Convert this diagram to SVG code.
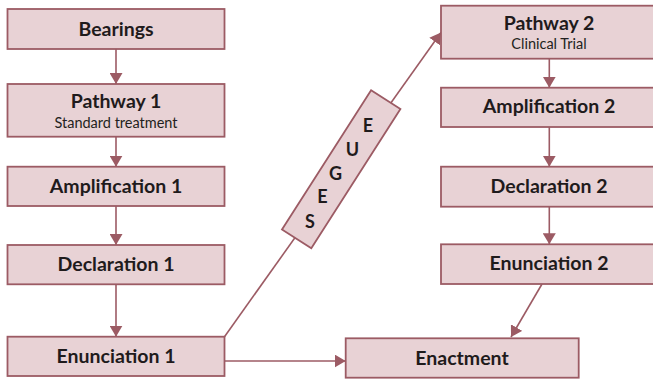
<svg xmlns="http://www.w3.org/2000/svg" width="653" height="382" viewBox="0 0 653 382">
  <defs>
    <style>
      .box { fill: #e8d2d5; stroke: #9c5b64; stroke-width: 1.8; }
      .edge { fill: none; stroke: #9c5b64; stroke-width: 1.6; }
      .title { font-family: Lato, "Liberation Sans", sans-serif; font-weight: 700; font-size: 19.5px; fill: #1f1b1c; text-anchor: middle; }
      .sub { font-family: Lato, "Liberation Sans", sans-serif; font-size: 14.5px; fill: #231f20; text-anchor: middle; }
      .letter { font-family: Lato, "Liberation Sans", sans-serif; font-weight: 700; font-size: 18px; fill: #1f1b1c; text-anchor: middle; }
    </style>
    <marker id="arrow" markerUnits="userSpaceOnUse" markerWidth="12" markerHeight="13" refX="11" refY="6.5" orient="auto">
      <path d="M0,0 L11,6.5 L0,13 Z" fill="#9c5b64"/>
    </marker>
  </defs>

  <!-- connectors -->
  <g id="connectors">
    <line class="edge" x1="116" y1="49" x2="116" y2="84" marker-end="url(#arrow)"/>
    <line class="edge" x1="116" y1="136.7" x2="116" y2="166.7" marker-end="url(#arrow)"/>
    <line class="edge" x1="116" y1="206" x2="116" y2="245" marker-end="url(#arrow)"/>
    <line class="edge" x1="116" y1="284.3" x2="116" y2="336.7" marker-end="url(#arrow)"/>
    <line class="edge" x1="549.3" y1="58.7" x2="549.3" y2="87.7" marker-end="url(#arrow)"/>
    <line class="edge" x1="549.3" y1="127" x2="549.3" y2="166.7" marker-end="url(#arrow)"/>
    <line class="edge" x1="549.3" y1="206.7" x2="549.3" y2="244.3" marker-end="url(#arrow)"/>
    <line class="edge" x1="542" y1="284" x2="511" y2="337" marker-end="url(#arrow)"/>
    <line class="edge" x1="224.5" y1="361" x2="345.7" y2="361" marker-end="url(#arrow)"/>
    <line class="edge" x1="224.5" y1="336.7" x2="441" y2="32.5" marker-end="url(#arrow)"/>
  </g>

  <!-- left column -->
  <g id="bearings">
    <rect class="box" x="7.5" y="9" width="217" height="40"/>
    <text class="title" x="116" y="35.5">Bearings</text>
  </g>
  <g id="pathway1">
    <rect class="box" x="7.5" y="84" width="217" height="52.7"/>
    <text class="title" x="116" y="108.3">Pathway 1</text>
    <text class="sub" x="116" y="127.7">Standard treatment</text>
  </g>
  <g id="amplification1">
    <rect class="box" x="7.5" y="166.7" width="217" height="39.3"/>
    <text class="title" x="116" y="192.6">Amplification 1</text>
  </g>
  <g id="declaration1">
    <rect class="box" x="7.5" y="245" width="217" height="39.3"/>
    <text class="title" x="116" y="271">Declaration 1</text>
  </g>
  <g id="enunciation1">
    <rect class="box" x="7.5" y="336.7" width="217" height="39.3"/>
    <text class="title" x="116" y="362.8">Enunciation 1</text>
  </g>

  <!-- segue band -->
  <g id="segue">
    <rect class="box" x="-17.4" y="-82.7" width="34.8" height="165.4" transform="translate(341.2,169.3) rotate(32.6)"/>
    <text class="letter" x="310" y="228.3">S</text>
    <text class="letter" x="322.5" y="203.3">E</text>
    <text class="letter" x="335.5" y="180">G</text>
    <text class="letter" x="352.5" y="156">U</text>
    <text class="letter" x="368" y="132.3">E</text>
  </g>

  <!-- right column -->
  <g id="pathway2">
    <rect class="box" x="441" y="5.7" width="216" height="53"/>
    <text class="title" x="549" y="29.5">Pathway 2</text>
    <text class="sub" x="549" y="48.5">Clinical Trial</text>
  </g>
  <g id="amplification2">
    <rect class="box" x="441" y="87.7" width="216" height="39.3"/>
    <text class="title" x="549" y="113.3">Amplification 2</text>
  </g>
  <g id="declaration2">
    <rect class="box" x="441" y="166.7" width="216" height="40"/>
    <text class="title" x="549" y="192.8">Declaration 2</text>
  </g>
  <g id="enunciation2">
    <rect class="box" x="441" y="244.3" width="216" height="39.7"/>
    <text class="title" x="549" y="270.3">Enunciation 2</text>
  </g>

  <!-- outcome -->
  <g id="enactment">
    <rect class="box" x="345.7" y="338.3" width="233" height="39.4"/>
    <text class="title" x="462" y="364.5">Enactment</text>
  </g>
</svg>
